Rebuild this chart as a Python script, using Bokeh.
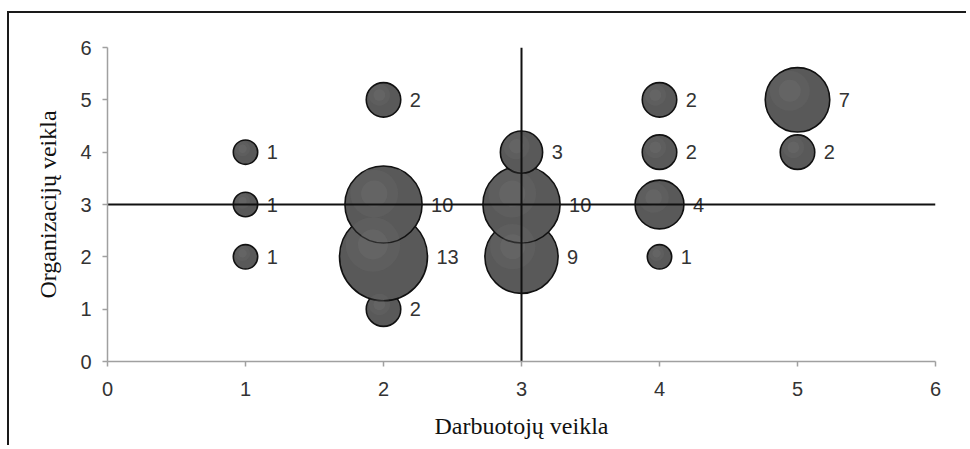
import numpy as np
from bokeh.plotting import figure
from bokeh.models import ColumnDataSource, Range1d, FixedTicker
from bokeh.core.properties import value
from bokeh.embed import file_html
from bokeh.resources import INLINE

# Data
x_vals = [1, 1, 1, 2, 2, 2, 2, 3, 3, 3, 4, 4, 4, 4, 5, 5]
y_vals = [2, 3, 4, 1, 2, 3, 5, 2, 3, 4, 2, 3, 4, 5, 4, 5]
counts = [1, 1, 1, 2, 13, 10, 2, 9, 10, 3, 1, 4, 2, 2, 2, 7]
x_ticks = [0, 1, 2, 3, 4, 5, 6]
y_ticks = [0, 1, 2, 3, 4, 5, 6]
x_split = 3
y_split = 3
x_title = "Darbuotojų veikla"
y_title = "Organizacijų veikla"

# Layout
ML, MT, MR, MB = 98, 34, 33, 86
FW, FH = 828, 314
W, H = ML + FW + MR, MT + FH + MB
px_x = FW / 6.0
px_y = FH / 6.0

diam = [24.4 * np.sqrt(c) for c in counts]
src = ColumnDataSource(dict(
    x=x_vals, y=y_vals, d=diam,
    lab=[str(c) for c in counts],
    off=[dd / 2 + 9 for dd in diam],
    hx=[x - 0.12 * dd / px_x for x, dd in zip(x_vals, diam)],
    hy=[y + 0.14 * dd / px_y for y, dd in zip(y_vals, diam)],
    h1=[dd * 0.62 for dd in diam],
    h2=[dd * 0.34 for dd in diam],
))

p = figure(width=W, height=H, output_backend="svg", toolbar_location=None,
           x_range=Range1d(0, 6), y_range=Range1d(0, 6),
           min_border_left=ML, min_border_right=MR, min_border_top=MT,
           min_border_bottom=MB,
           styles={"border-top": "2px solid #1a1a1a",
                   "border-left": "2px solid #1a1a1a",
                   "margin-top": "11px", "margin-left": "7px"})
p.outline_line_color = None
p.grid.visible = False
p.background_fill_color = "white"
p.border_fill_color = "white"

p.scatter("x", "y", size="d", source=src, fill_color="#595959",
          line_color="#111111", line_width=1.6)
p.scatter("hx", "hy", size="h1", source=src, fill_color="#808080",
          fill_alpha=0.12, line_color=None)
p.scatter("hx", "hy", size="h2", source=src, fill_color="#909090",
          fill_alpha=0.14, line_color=None)

p.text("x", "y", text="lab", source=src, x_offset="off",
       text_baseline="middle", text_align="left",
       text_font=value("Liberation Sans"), text_font_size="20px",
       text_color="#333333")

p.line([x_ticks[0], x_ticks[-1]], [y_split, y_split], line_color="#111111",
       line_width=2)
p.line([x_split, x_split], [y_ticks[0], y_ticks[-1]], line_color="#111111",
       line_width=2)

for ax, ticks in ((p.xaxis, x_ticks), (p.yaxis, y_ticks)):
    ax.ticker = FixedTicker(ticks=ticks)
    ax.axis_line_color = "#a0a0a0"
    ax.axis_line_width = 1.5
    ax.major_tick_line_color = "#a0a0a0"
    ax.major_tick_line_width = 1.5
    ax.major_tick_out = 5
    ax.major_tick_in = 0
    ax.minor_tick_line_color = None
    ax.major_label_text_font = "Liberation Sans"
    ax.major_label_text_font_size = "20px"
    ax.major_label_text_color = "#333333"
    ax.axis_label_text_font = "Liberation Serif"
    ax.axis_label_text_font_size = "24px"
    ax.axis_label_text_font_style = "normal"
    ax.axis_label_text_color = "#111111"

p.xaxis.major_label_standoff = 15
p.yaxis.major_label_standoff = 11
p.xaxis.axis_label = x_title
p.yaxis.axis_label = y_title
p.xaxis.axis_label_standoff = 14
p.yaxis.axis_label_standoff = 16

open("out.html", "w").write(file_html(p, INLINE))
